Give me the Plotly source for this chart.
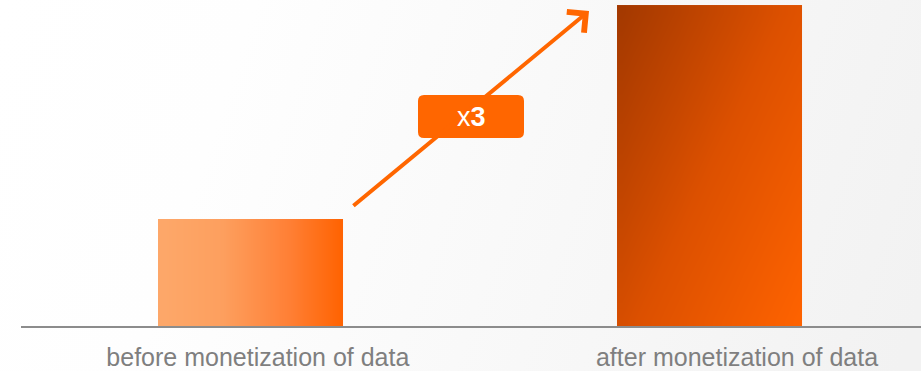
import base64
import numpy as np
import plotly.graph_objects as go

# ---- data ----
categories = ["before monetization of data", "after monetization of data"]
values = [1, 3]
growth_label = "x<b>3</b>"

# ---- style ----
W, H = 921, 371
bar_width = 0.403
bar1_scale = [[0, "#fda86a"], [0.35, "#fd9f5e"], [0.7, "#ff8036"], [1, "#ff6200"]]
bar2_scale = [[0, "#a23800"], [0.5, "#dc5000"], [1, "#ff6300"]]
orange = "#ff6600"

fig = go.Figure()

nx, ny = 24, 24
for i, (cat, v) in enumerate(zip(categories, values)):
    xe = np.linspace(i - bar_width / 2, i + bar_width / 2, nx + 1)
    ye = np.linspace(0, v, ny + 1)
    u = (np.arange(nx) + 0.5) / nx            # 0 left -> 1 right
    t = 1 - (np.arange(ny) + 0.5) / ny        # 1 bottom, 0 top
    U, T = np.meshgrid(u, t)
    if i == 0:
        Z = U
        cs = bar1_scale
    else:
        Z = 0.55 * U + 0.45 * T
        cs = bar2_scale
    fig.add_trace(go.Heatmap(
        x=xe, y=ye, z=Z, colorscale=cs, zmin=0, zmax=1, zsmooth="best",
        showscale=False, name=cat, hovertemplate=f"{cat}: {v}<extra></extra>",
    ))

# background gradient
svg = (
    f'<svg xmlns="http://www.w3.org/2000/svg" width="{W}" height="{H}">'
    '<defs><linearGradient id="g" gradientUnits="userSpaceOnUse" x1="0" y1="0" x2="921" y2="300">'
    '<stop offset="0" stop-color="#ffffff"/><stop offset="0.25" stop-color="#fefefe"/>'
    '<stop offset="1" stop-color="#f2f2f2"/></linearGradient></defs>'
    f'<rect width="{W}" height="{H}" fill="url(#g)"/></svg>'
)
bg_src = "data:image/svg+xml;base64," + base64.b64encode(svg.encode()).decode()

ml, mr, mt, mb = 21, 0, 0, 45
pw, ph = W - ml - mr, H - mt - mb

fig.update_layout(
    width=W, height=H,
    margin=dict(l=ml, r=mr, t=mt, b=mb, pad=0),
    paper_bgcolor="white", plot_bgcolor="rgba(0,0,0,0)",
    showlegend=False,
    font=dict(family="Liberation Sans, Arial, sans-serif"),
    xaxis=dict(
        range=[-0.5, 1.4608], tickvals=[0.016, 1.06], ticktext=categories,
        showgrid=False, zeroline=False, showline=True, linecolor="#8c8c8c", linewidth=2,
        ticks="", ticklabelstandoff=8, tickfont=dict(size=25, color="#7f7f7f"), fixedrange=True,
    ),
    yaxis=dict(range=[0, 3.047], visible=False, showgrid=False, zeroline=False, fixedrange=True),
    images=[dict(
        source=bg_src, xref="paper", yref="paper", x=-ml / pw, y=1 + mt / ph,
        sizex=W / pw, sizey=H / ph, xanchor="left", yanchor="top",
        sizing="stretch", layer="below",
    )],
)

# growth arrow
fig.add_annotation(
    x=0.7375, y=2.944, ax=0.221, ay=1.112, xref="x", yref="y", axref="x", ayref="y",
    showarrow=True, arrowhead=4, arrowsize=1.3, arrowwidth=4, arrowcolor=orange, text="",
)

# label box (rounded)
bx, by = 0.4804, 1.958
bw, bh, r = 106, 43, 6
hw, hh = bw / 2, bh / 2
path = (
    f"M{-hw + r},{-hh} L{hw - r},{-hh} Q{hw},{-hh} {hw},{-hh + r} "
    f"L{hw},{hh - r} Q{hw},{hh} {hw - r},{hh} L{-hw + r},{hh} Q{-hw},{hh} {-hw},{hh - r} "
    f"L{-hw},{-hh + r} Q{-hw},{-hh} {-hw + r},{-hh} Z"
)
fig.add_shape(
    type="path", path=path, xref="x", yref="y", xsizemode="pixel", ysizemode="pixel",
    xanchor=bx, yanchor=by, fillcolor=orange, line=dict(width=0), layer="above",
)
fig.add_annotation(
    x=bx, y=by, xref="x", yref="y", text=growth_label, showarrow=False,
    font=dict(size=27, color="white"),
)

fig.write_html("out.html")
